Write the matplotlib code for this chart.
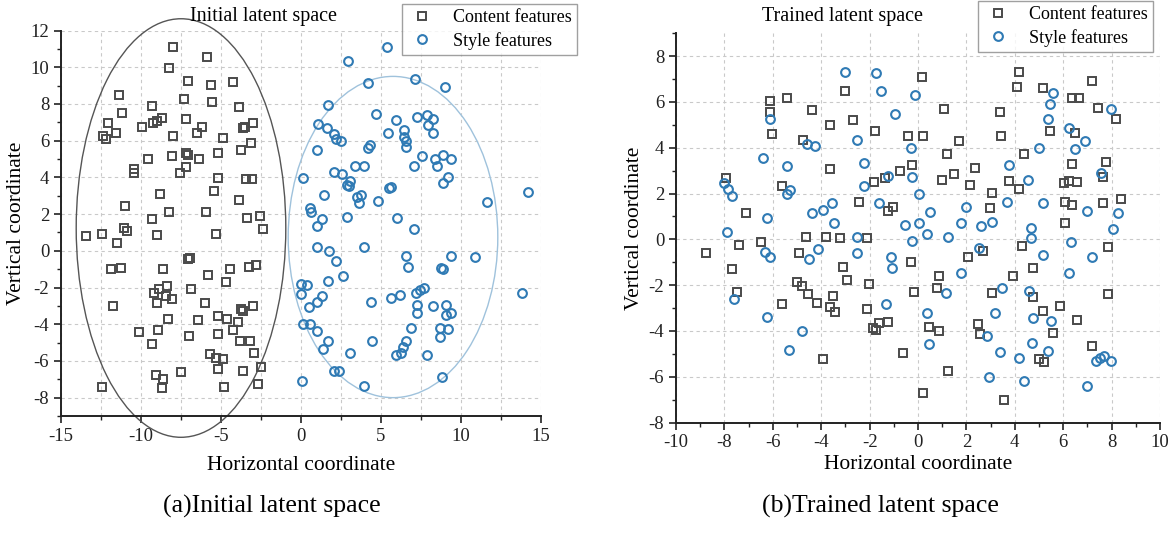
import matplotlib
matplotlib.use("Agg")
import matplotlib.pyplot as plt
from matplotlib.patches import Ellipse
from matplotlib.ticker import MultipleLocator

plt.rcParams['font.family'] = ['Liberation Serif', 'DejaVu Serif']
plt.rcParams['axes.unicode_minus'] = False

# ---------------- data: (a) initial latent space ----------------
a_content_x = [-7.98,-5.86,-8.23,-7.08,-5.64,-11.36,-7.29,-5.58,-9.29,-11.19,-8.71,-9.02,-9.23,-12.08,-7.19,
               -9.96,-6.21,-11.56,-12.36,-12.21,-7.98,-6.48,-7.19,-7.04,-8.04,-9.54,-6.38,-7.19,-10.46,-10.44,
               -7.56,-5.44,-8.81,-10.98,-8.23,-5.96,-9.29,-11.04,-10.89,-13.46,-12.42,-11.5,-9.0,-5.31,-7.08,
               -6.92,-11.88,-11.25,-8.61,-5.79,-8.39,-8.86,-9.21,-6.88,-8.44,-8.04,-9.0,-11.75,-5.98,-8.33,
               -6.42,-5.21,-10.11,-8.92,-9.33,-7.0,-5.21,-5.69,-5.31,-5.21,-9.06,-8.61,-7.52,-8.69,-12.44,
               -4.23,-3.88,-3.64,-3.5,-2.98,-4.86,-3.13,-3.75,-5.17,-5.17,-3.46,-3.08,-3.88,-3.36,-2.56,
               -2.39,-4.42,-3.23,-2.83,-4.71,-4.64,-3.77,-3.61,-2.98,-3.92,-4.23,-3.81,-3.19,-2.92,-4.86,
               -3.61,-2.52,-4.79,-2.71]
a_content_y = [11.08,10.57,9.97,9.25,9.03,8.49,8.25,8.09,7.89,7.52,7.22,7.07,6.98,6.98,7.16,
               6.74,6.76,6.41,6.27,6.07,6.25,6.43,5.34,5.22,5.16,4.98,4.98,4.56,4.45,4.25,
               4.22,3.25,3.07,2.44,2.13,2.09,1.73,1.25,1.09,0.78,0.91,0.44,0.86,0.93,-0.47,
               -0.38,-1.0,-0.94,-1.0,-1.34,-1.91,-2.09,-2.29,-2.09,-2.47,-2.62,-2.85,-3.01,-2.83,-3.74,
               -3.76,-3.54,-4.43,-4.31,-5.08,-4.65,-4.52,-5.63,-5.86,-6.45,-6.79,-6.98,-6.61,-7.5,-7.44,
               9.19,7.83,6.7,6.74,6.98,6.14,5.85,5.5,5.34,3.95,3.89,3.89,2.75,1.77,1.89,
               1.2,-0.98,-0.9,-0.78,-1.69,-3.72,-3.18,-3.3,-3.01,-3.87,-4.31,-4.9,-4.9,-5.56,-5.9,
               -6.54,-6.32,-7.44,-7.28]
a_style_x = [2.96,4.17,1.71,4.69,1.08,1.61,2.06,2.19,2.5,0.98,4.17,4.33,3.38,3.96,2.08,2.54,3.06,2.89,3.0,0.14,
             1.46,3.48,3.75,3.63,4.83,0.56,0.61,1.29,2.89,
             5.39,7.13,9.0,5.94,7.27,7.86,8.27,7.96,8.27,5.46,6.46,6.46,6.56,6.56,7.54,7.08,8.38,8.89,9.38,8.48,
             9.17,8.89,5.63,5.52,11.61,14.21,5.98,
             0.98,0.98,1.77,2.17,3.96,2.64,-0.02,0.39,-0.02,1.67,0.98,1.29,0.5,4.38,0.14,0.56,0.98,1.67,1.36,
             4.46,3.06,2.06,2.39,0.08,3.96,
             7.08,6.56,6.67,9.38,8.75,8.89,10.88,5.64,6.19,7.17,7.44,7.71,7.25,7.25,8.27,9.04,9.04,9.38,13.79,
             6.88,8.69,8.69,9.17,6.56,6.39,6.25,5.94,7.86,8.79]
a_style_y = [10.34,9.12,7.92,7.43,6.89,6.7,6.34,6.07,5.98,5.49,5.61,5.74,4.63,4.62,4.31,4.18,3.81,3.58,3.54,3.95,
             3.04,2.91,3.04,2.58,2.71,2.31,2.09,1.73,1.85,
             11.08,9.36,8.92,7.12,7.27,7.4,7.18,6.85,6.43,6.43,6.58,6.21,5.98,5.67,5.18,4.63,5.0,5.22,5.0,4.63,
             4.0,3.67,3.49,3.4,2.67,3.18,1.77,
             1.36,0.2,-0.02,-0.54,0.2,-1.38,-1.83,-1.87,-2.38,-1.63,-2.78,-2.47,-3.08,-2.78,-3.99,-3.99,-4.36,-4.9,-5.36,
             -4.9,-5.59,-6.56,-6.54,-7.08,-7.36,
             1.2,-0.27,-0.9,-0.31,-0.93,-1.0,-0.36,-2.59,-2.41,-2.31,-2.16,-2.05,-2.98,-3.4,-3.03,-2.96,-3.5,-3.38,-2.31,
             -4.23,-4.2,-4.69,-4.27,-4.92,-5.26,-5.56,-5.68,-5.65,-6.87]

# ---------------- data: (b) trained latent space ----------------
b_content_x = [-6.12,-5.43,-6.12,-4.39,-6.02,-4.74,-7.93,-5.63,-7.11,
               0.15,-3.02,1.09,-2.7,-3.64,-1.78,-0.43,0.22,1.69,1.19,-3.64,-0.26,-0.73,-1.36,-1.81,1.0,1.5,2.36,2.15,3.05,
               -2.43,-1.02,-1.23,2.98,
               4.19,4.08,5.15,7.18,6.35,6.67,7.45,8.17,3.39,3.42,5.45,6.48,4.38,6.35,7.77,3.77,4.19,6.03,6.25,6.58,7.66,
               6.07,6.35,7.66,8.39,6.07,
               -8.76,-7.38,-6.5,-7.7,-7.49,-5.61,-4.63,-4.9,-5.01,-4.81,-4.53,-4.16,-3.91,
               -3.8,-3.22,-2.12,-3.11,-2.92,-2.01,-0.29,2.08,2.67,0.87,0.77,-0.15,3.05,-3.53,-3.64,-3.41,-2.12,-1.85,
               -1.74,-1.61,-1.23,0.47,0.88,2.47,2.56,-0.61,1.23,0.22,
               4.29,7.86,4.77,3.91,4.77,7.86,5.87,5.18,6.58,5.59,7.18,4.98,5.21,3.55]
b_content_y = [6.05,6.18,5.55,5.66,4.6,4.34,2.66,2.33,1.16,
               7.07,6.48,5.69,5.2,4.99,4.73,4.52,4.52,4.29,3.72,3.06,3.24,2.98,2.66,2.5,2.59,2.86,3.1,2.38,2.01,
               1.64,1.42,1.24,1.38,
               7.32,6.64,6.59,6.93,6.16,6.16,5.72,5.25,5.57,4.52,4.74,4.63,3.71,3.29,3.39,2.56,2.18,2.47,2.56,2.49,2.73,
               1.64,1.5,1.6,1.75,0.72,
               -0.58,-0.25,-0.13,-1.3,-2.29,-2.81,0.11,-0.58,-1.85,-2.04,-2.4,-2.79,-5.24,
               0.09,0.04,0.04,-1.2,-1.78,-1.97,-1.0,-0.77,-0.5,-1.59,-2.14,-2.29,-2.36,-2.48,-2.94,-3.19,-3.03,-3.86,
               -3.96,-3.64,-3.6,-3.82,-4.0,-3.71,-4.15,-4.95,-5.75,-6.7,
               -0.29,-0.32,-1.27,-1.6,-2.53,-2.39,-2.91,-3.12,-3.52,-4.1,-4.66,-5.23,-5.34,-7.02]
b_style_x = [-6.12,-4.6,-4.27,-6.42,-5.43,-8.02,-7.84,-7.7,-5.29,-5.43,-4.39,-6.23,-7.9,
             -3.02,-1.74,-1.53,-0.12,-0.95,-2.53,-0.3,-2.22,-1.23,-0.24,-2.22,0.05,-3.57,-3.91,-3.46,-1.61,1.98,0.5,
             -0.54,0.05,1.76,2.59,3.05,
             5.57,5.45,7.98,5.38,6.25,6.9,5.01,6.49,3.77,4.56,7.56,3.66,5.18,6.97,8.28,4.66,8.07,
             -6.32,-6.12,-4.49,-4.12,-7.6,-6.23,-4.81,-5.32,
             -2.53,-2.53,-1.12,-1.09,-0.24,0.38,1.23,2.53,1.76,1.14,-1.32,0.38,0.47,2.86,2.93,
             4.66,6.31,5.15,7.18,6.25,3.48,4.59,3.18,4.77,5.5,3.39,4.7,5.38,4.19,7.36,7.52,7.69,7.96,4.39,6.99]
b_style_y = [5.24,4.16,4.09,3.54,3.2,2.47,2.18,1.9,2.15,1.98,1.16,0.94,0.33,
             7.32,7.28,6.46,6.3,5.46,4.34,3.97,3.32,2.78,2.73,2.34,1.97,1.57,1.28,0.72,1.57,1.42,1.18,
             0.62,0.7,0.72,0.58,0.77,
             6.4,5.9,5.69,5.24,4.87,4.29,3.97,3.93,3.24,2.59,2.88,1.64,1.6,1.24,1.16,0.48,0.44,
             -0.54,-0.76,-0.87,-0.44,-2.62,-3.38,-4.0,-4.83,
             0.09,-0.58,-0.76,-1.24,-0.06,0.23,0.09,-0.37,-1.46,-2.36,-2.83,-3.23,-4.57,-4.21,-6.03,
             0.04,-0.1,-0.69,-0.76,-1.48,-2.11,-2.24,-3.23,-3.45,-3.57,-4.91,-4.54,-4.88,-5.17,-5.31,-5.2,-5.08,-5.33,
             -6.19,-6.39]

legend_labels = ["Content features", "Style features"]
titles = ["Initial latent space", "Trained latent space"]
captions = ["(a)Initial latent space", "(b)Trained latent space"]

# ---------------- styling ----------------
SQ_COLOR = '#4a4a4a'
CI_COLOR = '#2f7ab4'
GRID_COLOR = '#c9c9c9'

W, H = 1175, 533
fig = plt.figure(figsize=(W / 100, H / 100), dpi=100)

def px_box(x0, x1, ytop, ybot):
    return [x0 / W, 1 - ybot / H, (x1 - x0) / W, (ybot - ytop) / H]

axA = fig.add_axes(px_box(61, 541, 30.5, 416))
axB = fig.add_axes(px_box(676, 1160, 33.2, 422.5))

def style_axes(ax):
    for s in ['top', 'right']:
        ax.spines[s].set_visible(False)
    for s in ['left', 'bottom']:
        ax.spines[s].set_linewidth(1.4)
        ax.spines[s].set_color('#222222')
    ax.tick_params(which='major', direction='out', length=5, width=1.2, labelsize=13.5, colors='#222222')
    ax.tick_params(which='minor', direction='out', length=3, width=1.0, colors='#222222')
    ax.set_axisbelow(True)

def draw(ax, cx, cy, sx, sy):
    ax.plot(cx, cy, linestyle='none', marker='s', ms=5.8, mfc='none', mec=SQ_COLOR, mew=1.4,
            label=legend_labels[0], clip_on=False, zorder=3)
    ax.plot(sx, sy, linestyle='none', marker='o', ms=6.3, mfc='none', mec=CI_COLOR, mew=1.5,
            label=legend_labels[1], clip_on=False, zorder=3)

leg_kw = dict(fontsize=13, frameon=True, fancybox=False, edgecolor='#888888', borderpad=0.3,
              handletextpad=0.9, labelspacing=0.3, borderaxespad=0, handlelength=1.6)

# ---- panel (a)
draw(axA, a_content_x, a_content_y, a_style_x, a_style_y)
axA.set_xlim(-15, 15)
axA.set_ylim(-9, 12)
axA.xaxis.set_major_locator(MultipleLocator(5))
axA.xaxis.set_minor_locator(MultipleLocator(2.5))
axA.set_yticks([-8, -6, -4, -2, 0, 2, 4, 6, 8, 10, 12])
axA.yaxis.set_minor_locator(MultipleLocator(1))
axA.grid(True, which='both', axis='x', color=GRID_COLOR, linestyle=(0, (3, 3)), linewidth=0.8)
axA.grid(True, which='major', axis='y', color=GRID_COLOR, linestyle=(0, (3, 3)), linewidth=0.8)
style_axes(axA)
axA.add_patch(Ellipse((-7.5, 1.24), 13.1, 22.8, fill=False, edgecolor='#555555', lw=1.0, clip_on=False, zorder=2))
axA.add_patch(Ellipse((5.75, 0.75), 13.1, 17.5, fill=False, edgecolor='#9fc2dc', lw=1.0, clip_on=False, zorder=2))
axA.set_xlabel("Horizontal coordinate", fontsize=15.5, labelpad=8)
axA.set_ylabel("Vertical coordinate", fontsize=15.5, labelpad=3)
fig.text(263 / W, 1 - 17 / H, titles[0], ha='center', va='center', fontsize=14.5)
axA.legend(loc='upper right', bbox_to_anchor=(577 / W, 1 - 4 / H), bbox_transform=fig.transFigure, **leg_kw)

# ---- panel (b)
draw(axB, b_content_x, b_content_y, b_style_x, b_style_y)
axB.set_xlim(-10, 10)
axB.set_ylim(-8, 9)
axB.xaxis.set_major_locator(MultipleLocator(2))
axB.xaxis.set_minor_locator(MultipleLocator(1))
axB.set_yticks([-8, -6, -4, -2, 0, 2, 4, 6, 8])
axB.yaxis.set_minor_locator(MultipleLocator(1))
axB.grid(True, which='major', color=GRID_COLOR, linestyle=(0, (3, 3)), linewidth=0.8)
style_axes(axB)
axB.set_xlabel("Horizontal coordinate", fontsize=15.5, labelpad=3)
axB.set_ylabel("Vertical coordinate", fontsize=15.5, labelpad=3)
fig.text(843 / W, 1 - 17 / H, titles[1], ha='center', va='center', fontsize=14.5)
axB.legend(loc='upper right', bbox_to_anchor=(1153 / W, 1 - 1 / H), bbox_transform=fig.transFigure, **leg_kw)

fig.text(272 / W, 1 - 506 / H, captions[0], ha='center', va='center', fontsize=18.5)
fig.text(880 / W, 1 - 506 / H, captions[1], ha='center', va='center', fontsize=18.5)

fig.savefig("out.png", dpi=100)
